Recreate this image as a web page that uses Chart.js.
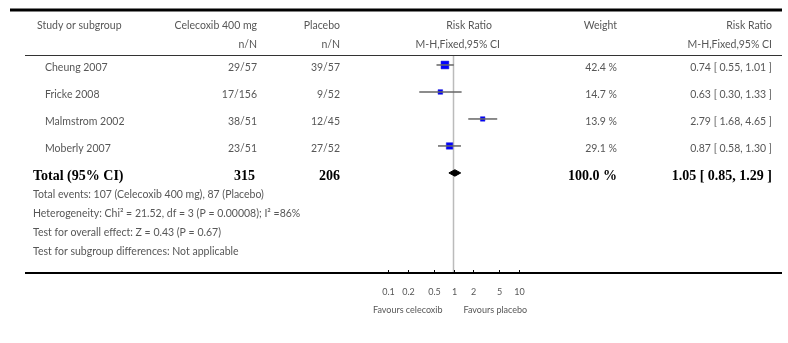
<!DOCTYPE html>
<html>
<head>
<meta charset="utf-8">
<script src="https://cdn.jsdelivr.net/npm/chart.js@4/dist/chart.umd.min.js"></script>
<style>
  html, body { margin: 0; padding: 0; background: #fff; }
  #wrap { width: 788px; height: 343px; position: relative; }
</style>
</head>
<body>
<div id="wrap"><canvas id="forest"></canvas></div>
<script>
var studies = ["Cheung 2007", "Fricke 2008", "Malmstrom 2002", "Moberly 2007"];
var celecoxibEvents = ["29/57", "17/156", "38/51", "23/51"];
var placeboEvents = ["39/57", "9/52", "12/45", "27/52"];
var ratio = [0.74, 0.63, 2.79, 0.87];
var lower = [0.55, 0.30, 1.68, 0.58];
var upper = [1.01, 1.33, 4.65, 1.30];
var weight = [42.4, 14.7, 13.9, 29.1];

var totalLabel = "Total (95% CI)";
var totalCelecoxib = "315";
var totalPlacebo = "206";
var totalWeight = "100.0 %";
var totalRatio = 1.05;
var totalLower = 0.85;
var totalUpper = 1.29;

var footnotes = [
  "Total events: 107 (Celecoxib 400 mg), 87 (Placebo)",
  "Heterogeneity: Chi\u00b2 = 21.52, df = 3 (P = 0.00008); I\u00b2 =86%",
  "Test for overall effect: Z = 0.43 (P = 0.67)",
  "Test for subgroup differences: Not applicable"
];

var tickValues = [0.1, 0.2, 0.5, 1, 2, 5, 10];
var tickLabels = ["0.1", "0.2", "0.5", "1", "2", "5", "10"];

var REG = "10.5px Lato";
var SMALL = "9px Lato";
var BOLD = "bold 14px 'Liberation Serif'";
var GREY = "#575757";

function fmt(v) { return v.toFixed(2); }
function ciText(r, lo, hi) { return fmt(r) + " [ " + fmt(lo) + ", " + fmt(hi) + " ]"; }

// datasets built from the arrays
var datasets = [];
for (var i = 0; i < studies.length; i++) {
  datasets.push({
    type: "line",
    data: [{x: lower[i], y: i}, {x: upper[i], y: i}],
    borderColor: "#666",
    borderWidth: 1.5,
    pointRadius: 0,
    order: 0
  });
}
datasets.push({
  type: "scatter",
  data: ratio.map(function (r, i) { return {x: r, y: i}; }),
  pointStyle: "rect",
  pointRadius: weight.map(function (w) { return 1.2 * Math.sqrt(w) / Math.SQRT2; }),
  backgroundColor: "#0000ff",
  borderColor: "#1010d0",
  borderWidth: 0.5,
  order: 1
});
var tRow = studies.length;
datasets.push({
  type: "line",
  data: [
    {x: totalLower, y: tRow},
    {x: totalRatio, y: tRow - 0.12},
    {x: totalUpper, y: tRow},
    {x: totalRatio, y: tRow + 0.12},
    {x: totalLower, y: tRow}
  ],
  borderColor: "#000",
  borderWidth: 1,
  backgroundColor: "#000",
  fill: "shape",
  pointRadius: 0,
  order: 0
});

function txt(ctx, s, x, y, align, font, color) {
  ctx.font = font;
  ctx.fillStyle = color;
  ctx.textAlign = align;
  ctx.textBaseline = "middle";
  ctx.fillText(s, x, y);
}

function hline(ctx, x1, x2, y, w, color) {
  ctx.beginPath();
  ctx.strokeStyle = color;
  ctx.lineWidth = w;
  ctx.moveTo(x1, y);
  ctx.lineTo(x2, y);
  ctx.stroke();
}

var tablePlugin = {
  id: "table",
  beforeDatasetsDraw: function (chart) {
    var ctx = chart.ctx, xs = chart.scales.x, a = chart.chartArea;
    var x1 = xs.getPixelForValue(1);
    ctx.save();
    ctx.beginPath();
    ctx.strokeStyle = "#bbb";
    ctx.lineWidth = 1.5;
    ctx.moveTo(x1, a.top);
    ctx.lineTo(x1, a.bottom);
    ctx.stroke();
    ctx.restore();
  },
  afterDraw: function (chart) {
    var ctx = chart.ctx, xs = chart.scales.x, ys = chart.scales.y, a = chart.chartArea;
    ctx.save();
    // top rule and header
    hline(ctx, 10, 782, 10, 3, "#000");
    txt(ctx, "Study or subgroup", 37, 26, "left", REG, GREY);
    txt(ctx, "Celecoxib 400 mg", 257, 26, "right", REG, GREY);
    txt(ctx, "n/N", 257, 45, "right", REG, GREY);
    txt(ctx, "Placebo", 340, 26, "right", REG, GREY);
    txt(ctx, "n/N", 340, 45, "right", REG, GREY);
    txt(ctx, "Risk Ratio", 492, 26, "right", REG, GREY);
    txt(ctx, "M-H,Fixed,95% CI", 500, 45, "right", REG, GREY);
    txt(ctx, "Weight", 617, 26, "right", REG, GREY);
    txt(ctx, "Risk Ratio", 772, 26, "right", REG, GREY);
    txt(ctx, "M-H,Fixed,95% CI", 772, 45, "right", REG, GREY);
    hline(ctx, 25, 782, 55.5, 1.2, "#333");

    // study rows
    for (var i = 0; i < studies.length; i++) {
      var y = ys.getPixelForValue(i) + 3;
      txt(ctx, studies[i], 45, y, "left", REG, GREY);
      txt(ctx, celecoxibEvents[i], 257, y, "right", REG, GREY);
      txt(ctx, placeboEvents[i], 340, y, "right", REG, GREY);
      txt(ctx, weight[i].toFixed(1) + " %", 617, y, "right", REG, GREY);
      txt(ctx, ciText(ratio[i], lower[i], upper[i]), 772, y, "right", REG, GREY);
    }

    // total row
    var ty = ys.getPixelForValue(tRow) + 3;
    txt(ctx, totalLabel, 33, ty, "left", BOLD, "#000");
    txt(ctx, totalCelecoxib, 255, ty, "right", BOLD, "#000");
    txt(ctx, totalPlacebo, 340, ty, "right", BOLD, "#000");
    txt(ctx, totalWeight, 617, ty, "right", BOLD, "#000");
    txt(ctx, ciText(totalRatio, totalLower, totalUpper), 772, ty, "right", BOLD, "#000");

    for (var k = 0; k < footnotes.length; k++) {
      txt(ctx, footnotes[k], 33, ty + 19 * (k + 1), "left", REG, GREY);
    }

    // axis
    var axY = a.bottom + 1;
    hline(ctx, 25, 782, axY, 2, "#000");
    ctx.strokeStyle = "#000";
    ctx.lineWidth = 1;
    for (var t = 0; t < tickValues.length; t++) {
      var px = Math.round(xs.getPixelForValue(tickValues[t])) + 0.5;
      ctx.beginPath();
      ctx.moveTo(px, axY - 3);
      ctx.lineTo(px, axY);
      ctx.stroke();
      txt(ctx, tickLabels[t], px, axY + 19, "center", SMALL, GREY);
    }
    var x1 = xs.getPixelForValue(1);
    txt(ctx, "Favours celecoxib", x1 - 11, axY + 37, "right", SMALL, GREY);
    txt(ctx, "Favours placebo", x1 + 10, axY + 37, "left", SMALL, GREY);
    ctx.restore();
  }
};

new Chart(document.getElementById("forest"), {
  type: "scatter",
  data: { datasets: datasets },
  options: {
    responsive: true,
    maintainAspectRatio: false,
    animation: false,
    layout: { padding: { left: 388, right: 269, top: 55, bottom: 71 } },
    plugins: { legend: { display: false }, tooltip: { enabled: false } },
    scales: {
      x: { type: "logarithmic", min: 0.1, max: 10, display: false },
      y: { type: "linear", min: -0.37, max: 7.67, reverse: true, display: false }
    },
    elements: { line: { tension: 0 } }
  },
  plugins: [tablePlugin]
});
</script>
</body>
</html>
